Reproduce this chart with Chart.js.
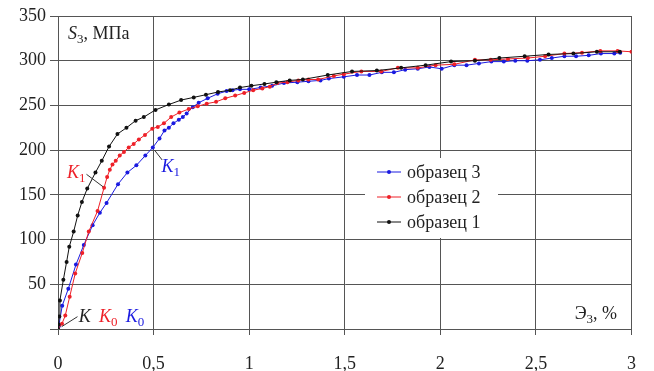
<!DOCTYPE html>
<html>
<head>
<meta charset="utf-8">
<script src="https://cdn.jsdelivr.net/npm/chart.js@4"></script>
<style>
  html, body { margin: 0; background: #fff; }
  canvas { display: block; }
</style>
</head>
<body>
<canvas id="chart" width="654" height="371"></canvas>
<script>
  // strain, %  /  stress, MPa
  const sample1X = [0, 0.003, 0.007, 0.01, 0.028, 0.045, 0.059, 0.082, 0.103, 0.125, 0.153, 0.196, 0.229, 0.267, 0.311, 0.358, 0.406, 0.449, 0.51, 0.58, 0.644, 0.71, 0.774, 0.837, 0.9, 0.952, 1.012, 1.08, 1.142, 1.212, 1.281, 1.411, 1.538, 1.668, 1.795, 1.923, 2.056, 2.181, 2.309, 2.441, 2.566, 2.696, 2.819, 2.939];
  const sample1Y = [0, 5, 14, 32, 55, 75, 92, 109, 127, 142, 157, 175, 188, 204, 218, 225, 233, 237, 245, 251, 256, 259, 262, 265, 267, 270, 272, 274, 276, 278, 279, 284, 288, 289, 292, 295, 299, 300, 303, 305, 307, 308, 310, 310];

  const sample2X = [0, 0.021, 0.038, 0.061, 0.09, 0.127, 0.161, 0.207, 0.241, 0.257, 0.271, 0.285, 0.302, 0.323, 0.345, 0.37, 0.396, 0.423, 0.455, 0.493, 0.522, 0.554, 0.592, 0.635, 0.684, 0.731, 0.778, 0.827, 0.875, 0.927, 0.974, 1.021, 1.069, 1.108, 1.147, 1.2, 1.257, 1.31, 1.361, 1.443, 1.495, 1.587, 1.691, 1.778, 1.882, 1.975, 2.073, 2.181, 2.264, 2.354, 2.458, 2.548, 2.649, 2.741, 2.837, 2.927, 3.0];
  const sample2Y = [0, 6, 15, 36, 62, 85, 109, 132, 158, 170, 178, 184, 188, 194, 198, 203, 207, 212, 217, 224, 226, 230, 237, 242, 246, 249, 252, 254, 258, 261, 264, 267, 269, 271, 275, 276, 278, 279, 279, 283, 285, 288, 288, 292, 292, 295, 296, 301, 301, 302, 303, 305, 308, 309, 311, 311, 310];

  const sample3X = [0, 0.004, 0.022, 0.054, 0.094, 0.135, 0.181, 0.219, 0.254, 0.314, 0.363, 0.41, 0.457, 0.496, 0.531, 0.557, 0.58, 0.604, 0.632, 0.653, 0.673, 0.705, 0.736, 0.783, 0.835, 0.882, 0.913, 0.952, 1.0, 1.06, 1.12, 1.182, 1.252, 1.31, 1.373, 1.417, 1.495, 1.564, 1.629, 1.694, 1.757, 1.816, 1.882, 1.943, 2.007, 2.073, 2.137, 2.202, 2.267, 2.332, 2.392, 2.455, 2.521, 2.583, 2.649, 2.71, 2.776, 2.84, 2.91, 2.941];
  const sample3Y = [0, 3, 26, 45, 72, 94, 116, 130, 141, 162, 175, 183, 194, 203, 213, 222, 225, 230, 234, 237, 241, 248, 253, 258, 263, 266, 267, 268, 268, 270, 272, 275, 276, 277, 278, 280, 282, 284, 284, 287, 287, 290, 291, 293, 291, 295, 295, 297, 299, 299, 300, 300, 301, 303, 305, 305, 306, 308, 308, 309];

  const seriesNames = ["образец 3", "образец 2", "образец 1"];
  const xTickLabels = ["0", "0,5", "1", "1,5", "2", "2,5", "3"];
  const yTickLabels = ["", "50", "100", "150", "200", "250", "300", "350"];

  const colors = { s3: "#1a1ae0", s2: "#ee2028", s1: "#111111", grid: "#555555" };
  const FONT = '"Liberation Serif", "Times New Roman", serif';

  function toPoints(xs, ys) {
    return xs.map((x, i) => ({ x, y: ys[i] }));
  }

  function series(label, xs, ys, color, order) {
    return {
      label,
      data: toPoints(xs, ys),
      showLine: true,
      borderColor: color,
      borderWidth: 1,
      backgroundColor: color,
      pointRadius: 2,
      pointBorderWidth: 0,
      pointBackgroundColor: color,
      order,
    };
  }

  // text pieces: [text, font, color, dy]
  function drawParts(ctx, x, y, parts) {
    let cx = x;
    parts.forEach(([t, font, color, dy]) => {
      ctx.font = font;
      ctx.fillStyle = color;
      ctx.fillText(t, cx, y + (dy || 0));
      cx += ctx.measureText(t).width;
    });
  }

  const it = "italic 18px " + FONT;
  const up = "18px " + FONT;
  const sub = "13px " + FONT;

  const labelsPlugin = {
    id: "labels",
    afterDatasetsDraw(chart) {
      const { ctx, scales: { x, y }, chartArea } = chart;
      const px = (v) => x.getPixelForValue(v);
      const py = (v) => y.getPixelForValue(v);
      ctx.save();
      ctx.textBaseline = "alphabetic";
      ctx.textAlign = "left";

      // leader lines
      ctx.strokeStyle = "#333";
      ctx.lineWidth = 1;
      [
        [0.102, 13.8, 0.019, 2.6],
        [0.149, 173, 0.236, 159],
        [0.505, 200, 0.545, 189],
      ].forEach(([x0, y0, x1, y1]) => {
        ctx.beginPath();
        ctx.moveTo(px(x0), py(y0));
        ctx.lineTo(px(x1), py(y1));
        ctx.stroke();
      });

      drawParts(ctx, px(0.052), py(324), [["S", it, "#222"], ["3", sub, "#222", 4], [", МПа", up, "#222"]]);
      drawParts(ctx, px(2.703), py(11.2), [["Э", up, "#222"], ["3", sub, "#222", 4], [", %", up, "#222"]]);
      drawParts(ctx, px(0.047), py(169), [["K", it, colors.s2], ["1", sub, colors.s2, 4]]);
      drawParts(ctx, px(0.542), py(175.6), [["K", it, colors.s3], ["1", sub, colors.s3, 4]]);
      drawParts(ctx, px(0.109), py(7.8), [["K", it, "#222"]]);
      drawParts(ctx, px(0.214), py(7.8), [["K", it, colors.s2], ["0", sub, colors.s2, 4]]);
      drawParts(ctx, px(0.354), py(7.8), [["K", it, colors.s3], ["0", sub, colors.s3, 4]]);

      // legend box
      const lx = chartArea.left + 307;
      const ly = chartArea.top + 142;
      ctx.fillStyle = "#fff";
      ctx.fillRect(lx, ly, 133, 80);
      const legendColors = [colors.s3, colors.s2, colors.s1];
      seriesNames.forEach((name, i) => {
        const rowY = ly + 14 + i * 25;
        ctx.strokeStyle = legendColors[i];
        ctx.lineWidth = 1;
        ctx.beginPath();
        ctx.moveTo(lx + 12, rowY);
        ctx.lineTo(lx + 36, rowY);
        ctx.stroke();
        ctx.fillStyle = legendColors[i];
        ctx.beginPath();
        ctx.arc(lx + 24, rowY, 2, 0, Math.PI * 2);
        ctx.fill();
        ctx.font = up;
        ctx.fillStyle = "#222";
        ctx.fillText(name, lx + 42, rowY + 6);
      });
      ctx.restore();
    },
  };

  new Chart(document.getElementById("chart"), {
    type: "scatter",
    data: {
      datasets: [
        series(seriesNames[0], sample3X, sample3Y, colors.s3, 3),
        series(seriesNames[1], sample2X, sample2Y, colors.s2, 2),
        series(seriesNames[2], sample1X, sample1Y, colors.s1, 1),
      ],
    },
    options: {
      responsive: false,
      animation: false,
      devicePixelRatio: 1,
      layout: { padding: { top: 16, right: 20, left: 0, bottom: 0 } },
      plugins: { legend: { display: false }, tooltip: { enabled: false } },
      scales: {
        x: {
          type: "linear",
          min: 0,
          max: 3,
          afterFit: (s) => { s.height = 42; },
          ticks: {
            stepSize: 0.5,
            padding: 18,
            color: "#222",
            font: { family: FONT, size: 18 },
            maxRotation: 0,
            callback: (v, i) => xTickLabels[i],
          },
          grid: { color: colors.grid, lineWidth: 1, tickLength: 6, tickColor: colors.grid },
          border: { color: colors.grid, width: 1 },
        },
        y: {
          min: 0,
          max: 350,
          afterFit: (s) => { s.width = 58; },
          ticks: {
            stepSize: 50,
            padding: 4,
            color: "#222",
            font: { family: FONT, size: 18 },
            callback: (v, i) => yTickLabels[i],
          },
          grid: { color: colors.grid, lineWidth: 1, tickLength: 8, tickColor: colors.grid },
          border: { color: colors.grid, width: 1 },
        },
      },
    },
    plugins: [labelsPlugin],
  });
</script>
</body>
</html>
